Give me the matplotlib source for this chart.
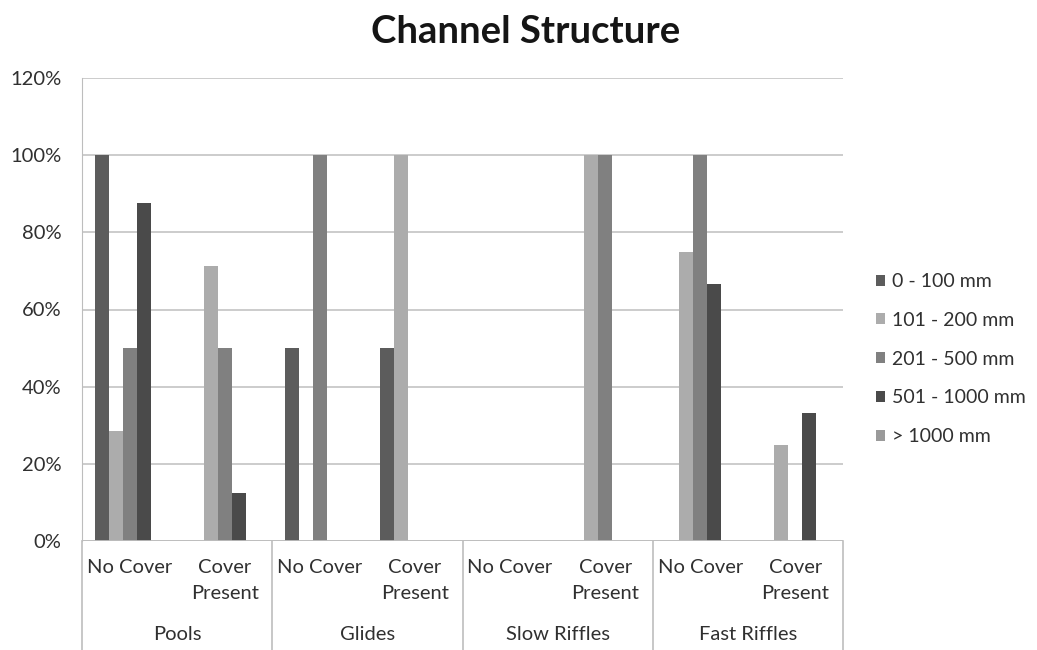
import numpy as np
import matplotlib.pyplot as plt
from matplotlib.lines import Line2D

plt.rcParams['font.family'] = ['Lato', 'DejaVu Sans']

# channel units and cover state
groups = ["Pools", "Glides", "Slow Riffles", "Fast Riffles"]
cover = ["No Cover", "Cover\nPresent"]

# share of fish per size class (fractions)
size_0_100 = [1.00, 0.00, 0.50, 0.50, 0.00, 0.00, 0.00, 0.00]
size_101_200 = [0.286, 0.714, 0.00, 1.00, 0.00, 1.00, 0.75, 0.25]
size_201_500 = [0.50, 0.50, 1.00, 0.00, 0.00, 1.00, 1.00, 0.00]
size_501_1000 = [0.875, 0.125, 0.00, 0.00, 0.00, 0.00, 0.667, 0.333]
size_over_1000 = [0.00, 0.00, 0.00, 0.00, 0.00, 0.00, 0.00, 0.00]

series = [size_0_100, size_101_200, size_201_500, size_501_1000, size_over_1000]
labels = ["0 - 100 mm", "101 - 200 mm", "201 - 500 mm", "501 - 1000 mm", "> 1000 mm"]
colors = ['#5c5c5c', '#acacac', '#808080', '#4a4a4a', '#9a9a9a']

yticks = [0, 0.2, 0.4, 0.6, 0.8, 1.0, 1.2]
ytick_labels = ["0%", "20%", "40%", "60%", "80%", "100%", "120%"]

fs = 14.5
txt = '#303030'

fig = plt.figure(figsize=(10.37, 6.5), dpi=100)
ax = fig.add_axes([82/1037, 109/650, 761/1037, 463/650])

x = np.arange(len(groups) * len(cover))
w = 0.147
for i, vals in enumerate(series):
    ax.bar(x + (i - 2) * w, vals, width=w, color=colors[i], label=labels[i], zorder=3)

ax.set_xlim(-0.5, 7.5)
ax.set_ylim(0, 1.2)
ax.set_yticks(yticks)
ax.set_yticklabels(ytick_labels, fontsize=fs, color=txt)
ax.tick_params(axis='y', length=0, pad=15)
ax.set_xticks([])
ax.grid(axis='y', color='#c8c8c8', lw=1.3, zorder=0)
for s in ['top', 'right', 'bottom']:
    ax.spines[s].set_visible(False)
ax.spines['left'].set_color('#bdbdbd')
ax.axhline(0, color='#bdbdbd', lw=1.3, zorder=4)

# two-level category axis
tr = ax.get_xaxis_transform()
bottom = -109 / 463
for b in [-0.5, 1.5, 3.5, 5.5, 7.5]:
    ax.add_line(Line2D([b, b], [0, bottom], transform=tr, color='#bdbdbd',
                       lw=1.2, clip_on=False))
for k, xi in enumerate(x):
    ax.annotate(cover[k % 2], xy=(xi, 0), xycoords=tr, xytext=(0, -18),
                textcoords='offset pixels', ha='center', va='top',
                fontsize=fs, color=txt, linespacing=1.65)
for g, name in enumerate(groups):
    ax.annotate(name, xy=(2 * g + 0.5, 0), xycoords=tr, xytext=(0, -85),
                textcoords='offset pixels', ha='center', va='top',
                fontsize=fs, color=txt)

fig.text(0.507, 0.951, "Channel Structure", ha='center', va='center',
         fontsize=27.5, fontweight='bold', color='#151515')

ax.legend(loc='center left', bbox_to_anchor=(1.02, 0.393), frameon=False,
          fontsize=14, handlelength=0.5, handleheight=0.5, handletextpad=0.35,
          labelspacing=1.12, labelcolor=txt)

fig.savefig('out.png', dpi=100)
